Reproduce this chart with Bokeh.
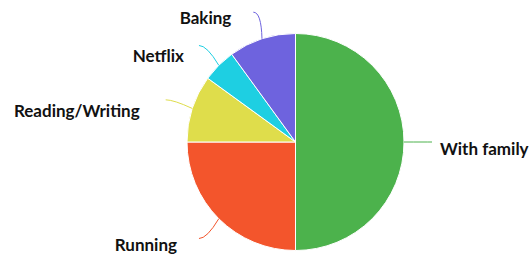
import numpy as np
from bokeh.plotting import figure
from bokeh.models import Range1d, ColumnDataSource
from bokeh.core.properties import value
from bokeh.embed import file_html
from bokeh.resources import INLINE

# ---- data ----
categories = ["With family", "Running", "Reading/Writing", "Netflix", "Baking"]
shares = [50, 25, 10, 5, 10]
colors = ["#4cb24c", "#f3552c", "#dfdd4b", "#1ecfe2", "#6e63de"]

# ---- layout (pixels of the picture) ----
W, H = 532, 265
cx, cy = 295.0, H - 141.5
R = 108.5
L = 28.0
# per-label text offsets from connector end (horizontal gap, downward shift)
label_gap = [8, 22, 26, 15, 22]
label_drop = [6.5, 6, 10.5, 10.5, 5.5]

vals = np.array(shares, dtype=float)
frac = vals / vals.sum()
cum = np.concatenate([[0], np.cumsum(frac)])
start = np.pi / 2 - cum[:-1] * 2 * np.pi
end = np.pi / 2 - cum[1:] * 2 * np.pi
mid = (start + end) / 2

ex = cx + R * np.cos(mid)
ey = cy + R * np.sin(mid)
px = cx + (R + L) * np.cos(mid)
py = cy + (R + L) * np.sin(mid)
side = np.where(np.cos(mid) >= -1e-9, 1.0, -1.0)
ctrl_x = px - side * 8
ctrl_y = py
tx = px + side * np.array(label_gap)
ty = py - np.array(label_drop)
align = ["left" if s > 0 else "right" for s in side]

src = ColumnDataSource(dict(cat=categories, start=start, end=end, color=colors,
                            ex=ex, ey=ey, px=px, py=py, qx=ctrl_x, qy=ctrl_y,
                            tx=tx, ty=ty, align=align))

p = figure(width=W, height=H, output_backend="svg", toolbar_location=None,
           x_range=Range1d(0, W), y_range=Range1d(0, H), min_border=0)
p.axis.visible = False
p.grid.visible = False
p.outline_line_color = None
p.background_fill_color = "white"
p.border_fill_color = "white"

p.wedge(x=cx, y=cy, radius=R, start_angle="start", end_angle="end",
        direction="clock", fill_color="color", line_color="white", line_width=1,
        source=src)

p.quadratic(x0="px", y0="py", x1="ex", y1="ey", cx="qx", cy="qy",
            line_color="color", line_width=1, source=src)

p.text(x="tx", y="ty", text="cat", text_align="align", text_baseline="middle",
       text_font=value("Lato"), text_font_style="bold", text_font_size="17px",
       text_color="#111111", source=src)

open("out.html", "w").write(file_html(p, INLINE))
